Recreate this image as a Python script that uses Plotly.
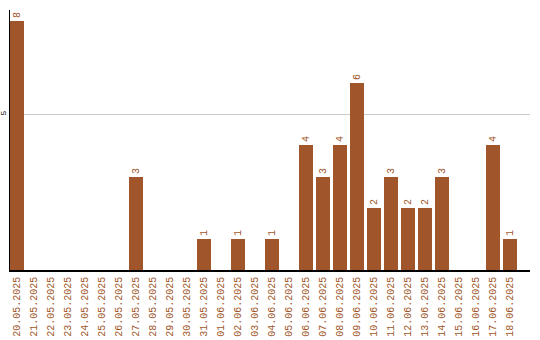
import plotly.graph_objects as go

dates = ["20.05.2025","21.05.2025","22.05.2025","23.05.2025","24.05.2025","25.05.2025",
         "26.05.2025","27.05.2025","28.05.2025","29.05.2025","30.05.2025","31.05.2025",
         "01.06.2025","02.06.2025","03.06.2025","04.06.2025","05.06.2025","06.06.2025",
         "07.06.2025","08.06.2025","09.06.2025","10.06.2025","11.06.2025","12.06.2025",
         "13.06.2025","14.06.2025","15.06.2025","16.06.2025","17.06.2025","18.06.2025"]
counts = [8,0,0,0,0,0,0,3,0,0,0,1,0,1,0,1,0,4,3,4,6,2,3,2,2,3,0,0,4,1]
ytick_vals = [5]

BROWN = "#A0562A"
FONT = "Liberation Mono"

labels = [str(v) if v else "" for v in counts]

fig = go.Figure(go.Bar(
    x=dates, y=counts, marker_color=BROWN, marker_line_width=0,
    width=0.824, text=labels, textposition="outside", textangle=-90,
    textfont=dict(family=FONT, size=10, color=BROWN), cliponaxis=False,
))

fig.update_layout(
    width=540, height=340, margin=dict(l=10, r=10, t=10, b=70),
    paper_bgcolor="white", plot_bgcolor="white", showlegend=False,
    bargap=0,
)
fig.update_xaxes(
    type="category", range=[-0.41, 30.2], showline=True, linecolor="black", linewidth=1.5,
    tickangle=-90, tickfont=dict(family=FONT, size=10, color=BROWN), ticks="",
    showgrid=False, ticklabelstandoff=1, automargin=False,
)
fig.update_yaxes(
    range=[0, 8.35], tickvals=ytick_vals, showline=True, linecolor="black", linewidth=1,
    showgrid=True, gridcolor="#cccccc", zeroline=False, tickangle=-90,
    tickfont=dict(family=FONT, size=8, color="black"), ticks="", ticklabelstandoff=0,
    automargin=False,
)

fig.write_html("out.html")
